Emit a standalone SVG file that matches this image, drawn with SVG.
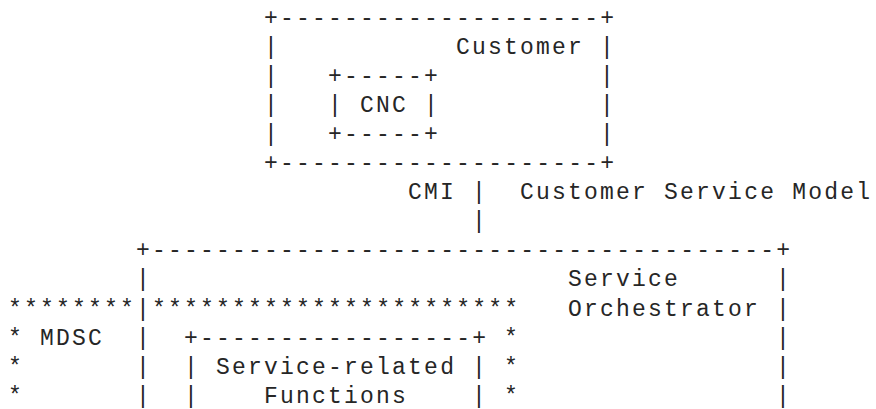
<svg xmlns="http://www.w3.org/2000/svg" width="876" height="409" viewBox="0 0 876 409" xml:space="preserve">
  <style>
    /* Monospaced character grid: 16px column pitch, 29.1px row pitch */
    text { font-family: "Liberation Mono", "DejaVu Sans Mono", monospace; font-size: 23px; letter-spacing: 2.2px; fill: #262626; white-space: pre; }
  </style>
  <rect width="876" height="409" fill="#ffffff"/>

  <!-- Customer box -->
  <g id="customer">
    <text x="264.1" y="24.5">+--------------------+</text>
    <text x="264.1" y="53.6">|</text><text x="456.1" y="53.6">Customer</text><text x="600.1" y="53.6">|</text>
    <text x="264.1" y="82.7">|</text><text x="600.1" y="82.7">|</text>
    <text x="264.1" y="111.8">|</text><text x="600.1" y="111.8">|</text>
    <text x="264.1" y="140.9">|</text><text x="600.1" y="140.9">|</text>
    <text x="264.1" y="170">+--------------------+</text>
  </g>

  <!-- CNC box inside Customer -->
  <g id="cnc">
    <text x="328.1" y="82.7">+-----+</text>
    <text x="328.1" y="111.8">| CNC |</text>
    <text x="328.1" y="140.9">+-----+</text>
  </g>

  <!-- CMI interface between Customer and Service Orchestrator -->
  <g id="connectors">
    <text x="408.1" y="199.1">CMI</text>
    <text x="472.1" y="199.1">|</text>
    <text x="520.1" y="199.1">Customer Service Model</text>
    <text x="472.1" y="228.2">|</text>
  </g>

  <!-- Service Orchestrator box -->
  <g id="service-orchestrator">
    <text x="136.1" y="257.3">+---------------------------------------+</text>
    <text x="136.1" y="286.4">|</text><text x="568.1" y="286.4">Service</text><text x="776.1" y="286.4">|</text>
    <text x="136.1" y="315.5">|</text><text x="568.1" y="315.5">Orchestrator</text><text x="776.1" y="315.5">|</text>
    <text x="136.1" y="344.6">|</text><text x="776.1" y="344.6">|</text>
    <text x="136.1" y="373.7">|</text><text x="776.1" y="373.7">|</text>
    <text x="136.1" y="402.8">|</text><text x="776.1" y="402.8">|</text>
  </g>

  <!-- MDSC region outlined with asterisks -->
  <g id="mdsc">
    <text x="8.1" y="315.5">********</text>
    <text x="152.1" y="315.5">***********************</text>
    <text x="8.1" y="344.6">* MDSC</text><text x="504.1" y="344.6">*</text>
    <text x="8.1" y="373.7">*</text><text x="504.1" y="373.7">*</text>
    <text x="8.1" y="402.8">*</text><text x="504.1" y="402.8">*</text>
  </g>

  <!-- Service-related Functions box -->
  <g id="service-related-functions">
    <text x="184.1" y="344.6">+-----------------+</text>
    <text x="184.1" y="373.7">|</text><text x="216.1" y="373.7">Service-related</text><text x="472.1" y="373.7">|</text>
    <text x="184.1" y="402.8">|</text><text x="264.1" y="402.8">Functions</text><text x="472.1" y="402.8">|</text>
  </g>
</svg>
